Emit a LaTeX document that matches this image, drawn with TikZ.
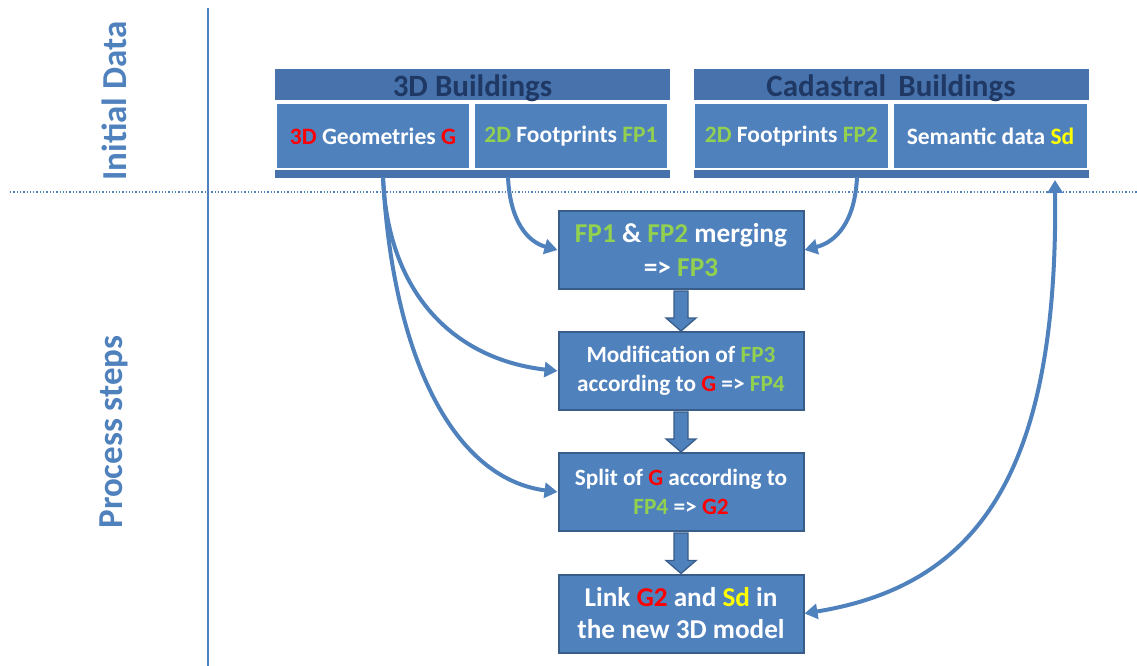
\documentclass[tikz,border=0pt]{standalone}
\usepackage{fontspec}
\setmainfont{Carlito}
\usetikzlibrary{arrows.meta,calc}
\definecolor{boxblue}{HTML}{4F81BD}
\definecolor{boxedge}{HTML}{385D8A}
\definecolor{headblue}{HTML}{4772AB}
\definecolor{headtext}{HTML}{1F3864}
\definecolor{fpgreen}{HTML}{92D050}
\definecolor{gred}{HTML}{FF0000}
\definecolor{sdyellow}{HTML}{FFFF00}
\newcommand{\gr}[1]{\textcolor{fpgreen}{#1}}
\newcommand{\rd}[1]{\textcolor{gred}{#1}}
\newcommand{\yl}[1]{\textcolor{sdyellow}{#1}}
\tikzset{
  header/.style={fill=headblue, draw=white, line width=0.8pt, inner sep=0pt, text=headtext,
    font=\fontsize{31}{34}\selectfont\bfseries, minimum height=32pt},
  cell/.style={fill=boxblue, draw=white, line width=1.2pt, inner sep=0pt, text=white,
    font=\fontsize{23.5}{26}\selectfont\bfseries, minimum height=66pt, minimum width=194pt},
  bar/.style={fill=headblue, draw=white, line width=0.8pt, inner sep=0pt, minimum height=9pt},
  stepbox/.style={fill=boxblue, draw=boxedge, line width=2pt, inner sep=0pt, text=white, align=center,
    minimum width=245pt, minimum height=78pt},
  flow/.style={draw=boxblue, line width=4pt, -{Triangle[width=15pt,length=13pt]}},
  sidelabel/.style={rotate=90, text=boxblue, font=\fontsize{35}{38}\selectfont\bfseries},
}
\begin{document}
\begin{tikzpicture}[x=1pt,y=-1pt]
\useasboundingbox (0,0) rectangle (1137,666);
% frame lines
\coordinate (vtop) at (208,8);
\coordinate (vbot) at (208,666);
\coordinate (hl) at (10,192);
\coordinate (hr) at (1137,192);
\draw[boxblue, line width=1.3pt] (vtop) -- (vbot);
\draw[boxblue, line width=1.3pt, dotted] (hl) -- (hr);
\node[sidelabel] (initlab) at (114,101) {Initial Data};
\node[sidelabel] (proclab) at (114,432) {Process steps};
% 3D Buildings
\node[header, minimum width=396pt, text depth=0pt] (h1) at (472.5,84.5) {\raisebox{-3pt}{3D Buildings}};
\node[cell] (geo) at (373,136) {\rd{3D} Geometries \rd{G}};
\node[cell] (fp1) at (571,136) {\gr{2D} Footprints \gr{FP1}};
\node[bar, minimum width=396pt] (bar1) at (472.5,174) {};
% Cadastral
\node[header, minimum width=396pt, text depth=0pt] (h2) at (891,84.5) {\raisebox{-3pt}{Cadastral\ \,Buildings}};
\node[cell] (fp2) at (791.5,136) {\gr{2D} Footprints \gr{FP2}};
\node[cell] (sd) at (990.5,136) {Semantic data \yl{Sd}};
\node[bar, minimum width=396pt] (bar2) at (891,174) {};
% process steps
\node[stepbox, font=\fontsize{27.3}{34}\selectfont\bfseries] (s1) at (681,250)
  {\raisebox{-2pt}{\gr{FP1} \& \gr{FP2} merging}\\\raisebox{-2pt}{=> \gr{FP3}}};
\node[stepbox, font=\fontsize{23.3}{29}\selectfont\bfseries] (s2) at (681,371)
  {Modification of \gr{FP3}\\according to \rd{G} => \gr{FP4}};
\node[stepbox, font=\fontsize{23.3}{29}\selectfont\bfseries] (s3) at (681,492)
  {Split of \rd{G} according to\\\gr{FP4} => \rd{G2}};
\node[stepbox, font=\fontsize{27.2}{32}\selectfont\bfseries] (s4) at (681,613.5)
  {Link \rd{G2} and \yl{Sd} in\\the new 3D model};
% block arrows
\foreach \a/\b in {s1/s2, s2/s3, s3/s4}{
  \draw[fill=boxblue, draw=boxedge, line width=1.3pt, line join=miter]
    ($(\a.south)+(-7,1)$) -- ($(\b.north)+(-7,-13)$) -- ($(\b.north)+(-15,-13)$)
    -- ($(\b.north)+(0,0)$) -- ($(\b.north)+(15,-13)$) -- ($(\b.north)+(7,-13)$)
    -- ($(\a.south)+(7,1)$) -- cycle;
}
% curved connectors
\coordinate (g0) at (383,177);
\coordinate (f10) at (508,177);
\coordinate (f20) at (857,177);
\coordinate (sd0) at (1055,180);
\draw[flow] (g0) .. controls (388,300) and (460,360) .. (s2.west);
\draw[flow] (g0) .. controls (392,350) and (450,478) .. (s3.west);
\draw[flow] (f10) .. controls (510,222) and (528,242) .. (s1.west);
\draw[flow] (f20) .. controls (855,222) and (836,242) .. (s1.east);
\draw[flow, {Triangle[width=15pt,length=13pt]}-{Triangle[width=15pt,length=13pt]}]
  (s4.east) .. controls (980,585) and (1058,470) .. (sd0);
\end{tikzpicture}
\end{document}
